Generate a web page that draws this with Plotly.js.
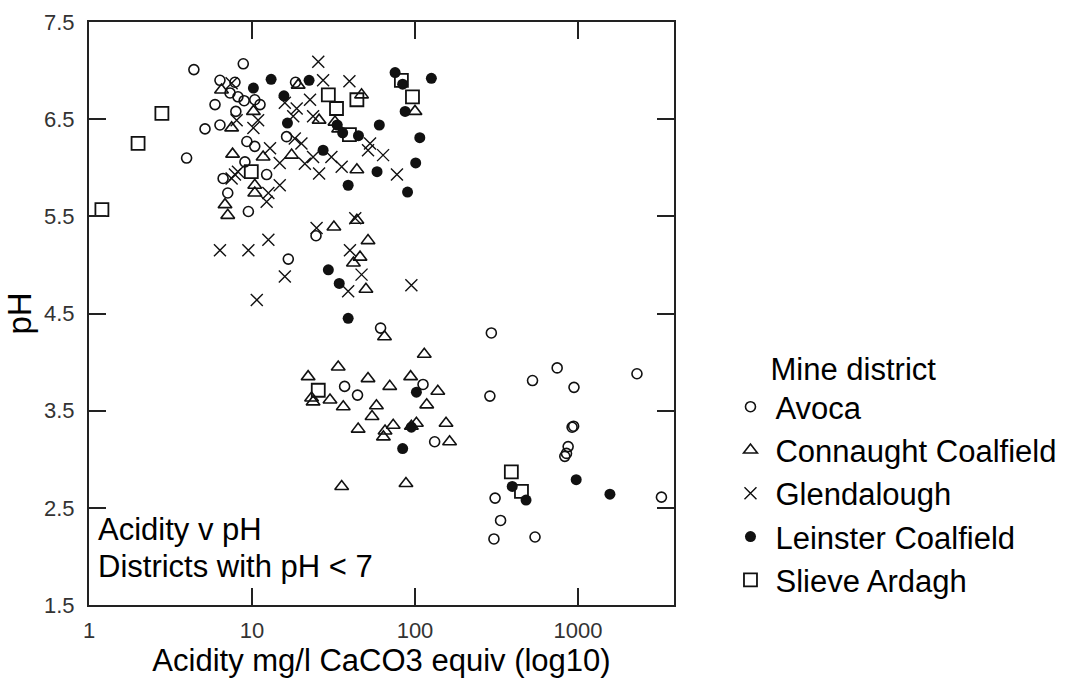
<!DOCTYPE html>
<html>
<head>
<meta charset="utf-8">
<script src="https://cdn.plot.ly/plotly-3.0.1.min.js"></script>
<style>html,body{margin:0;padding:0;background:#fff;}#chart{width:1091px;height:682px;}</style>
</head>
<body>
<div id="chart"></div>
<script>
// Acidity (mg/l CaCO3 equiv) and pH per mine district
const avocaAcidity = [4.4,8.84,5.93,5.15,6.36,7.96,6.36,7.86,7.33,8.2,8.95,10.4,11.2,9.3,10.4,3.97,9.05,6.65,12.3,7.1,9.5,18.5,16.3,24.7,16.7,61.5,37,44.4,112,132,294,745,526,945,2300,288,920,940,870,850,830,3250,310,335,305,545];
const avocaPH      = [7.01,7.07,6.65,6.40,6.44,6.58,6.90,6.88,6.77,6.73,6.69,6.70,6.65,6.27,6.22,6.10,6.06,5.89,5.93,5.74,5.55,6.88,6.32,5.30,5.06,4.35,3.75,3.66,3.77,3.18,4.30,3.94,3.81,3.74,3.88,3.65,3.33,3.34,3.13,3.06,3.03,2.61,2.60,2.37,2.18,2.20];

const connAcidity = [6.5,7.5,10.2,7.6,11.7,10.4,10.4,6.83,7.1,19.2,47,100,25.8,32.3,34,17.5,44,31.8,44,51.5,46,41.9,50,65,114,33.8,22.1,51.5,94,70,138,23.2,23.7,30.1,36.3,118,58,54.5,44.8,73.5,65.5,64,95,102,155,163,35.5,88];
const connPH      = [6.80,6.41,6.58,6.14,6.11,5.82,5.74,5.62,5.51,6.85,6.75,6.58,6.49,6.47,6.40,6.13,5.98,5.39,5.46,5.25,5.08,5.02,4.75,4.26,4.08,3.95,3.85,3.83,3.85,3.75,3.70,3.63,3.59,3.61,3.54,3.56,3.55,3.44,3.31,3.35,3.29,3.23,3.34,3.37,3.37,3.18,2.72,2.75];

const glenAcidity = [25.5,27.3,39.6,15.9,22.7,18.8,17.9,23.7,18.3,20.1,53,51.5,63.7,12.9,23.7,30.7,14.8,21.1,35.5,25.8,77.5,14.8,12.6,12.3,7.5,8.05,10.9,10.2,7.86,7.5,8.2,6.36,9.5,12.6,10.7,24.9,43,39.9,15.9,47,38.9,95];
const glenPH      = [7.09,6.90,6.89,6.67,6.70,6.61,6.53,6.53,6.30,6.25,6.25,6.18,6.13,6.20,6.11,6.11,6.05,6.04,6.01,5.94,5.93,5.82,5.74,5.65,6.87,6.49,6.49,6.41,5.93,5.89,5.96,5.15,5.15,5.26,4.64,5.38,5.48,5.15,4.88,4.90,4.73,4.79];

const leinAcidity = [13.1,10.2,22.4,75.5,84,126,87,15.7,16.5,33.3,36,45,60.4,107,27.3,101,58.5,38.9,90,29.4,34.3,38.9,102,84,95,395,480,975,1570];
const leinPH      = [6.91,6.82,6.90,6.98,6.86,6.92,6.58,6.74,6.46,6.44,6.36,6.33,6.44,6.31,6.18,6.05,5.96,5.82,5.75,4.95,4.81,4.45,3.69,3.11,3.33,2.72,2.58,2.79,2.64];

const slieveAcidity = [2.8,2.0,1.2,9.9,82.5,29.4,44,96.5,33,39.6,25.5,390,450];
const slievePH      = [6.56,6.25,5.57,5.96,6.90,6.75,6.70,6.73,6.61,6.34,3.71,2.87,2.67];

const districts = ["Avoca","Connaught Coalfield","Glendalough","Leinster Coalfield","Slieve Ardagh"];
const xTickVals = [1,10,100,1000];
const xTickText = ["1","10","100","1000"];
const yTickVals = [1.5,2.5,3.5,4.5,5.5,6.5,7.5];
const yTickText = ["1.5","2.5","3.5","4.5","5.5","6.5","7.5"];
const noteLines = ["Acidity v pH","Districts with pH &lt; 7"];

const ink = '#111';
function tr(name, x, y, symbol, size, lw) {
  return {type:'scatter', mode:'markers', name:name, x:x, y:y, cliponaxis:false,
    marker:{symbol:symbol, size:size, color:ink, line:{color:ink, width:lw}}};
}
const data = [
  tr(districts[0], avocaAcidity, avocaPH, 'circle-open', 10, 1.6),
  tr(districts[1], connAcidity, connPH, 'triangle-up-open', 12, 1.6),
  tr(districts[2], glenAcidity, glenPH, 'x-thin-open', 12, 1.4),
  tr(districts[3], leinAcidity, leinPH, 'circle', 11, 0),
  tr(districts[4], slieveAcidity, slievePH, 'square-open', 13, 1.8)
];

const axisCommon = {showline:true, linecolor:'#222', linewidth:2, mirror:'ticks', ticks:'inside',
  ticklen:17, tickwidth:2, tickcolor:'#222', showgrid:false, zeroline:false,
  tickfont:{family:'Liberation Sans Narrow, Liberation Sans, Arial, sans-serif', size:22, color:'#333'}};

const layout = {
  width:1091, height:682,
  margin:{l:89, r:417, t:22, b:77},
  paper_bgcolor:'#fff', plot_bgcolor:'#fff',
  font:{family:'Liberation Sans, Arial, sans-serif', color:'#000'},
  xaxis:Object.assign({}, axisCommon, {type:'log', range:[0, 3.589], tickmode:'array',
    tickvals:xTickVals, ticktext:xTickText, ticklabelstandoff:5,
    title:{text:'Acidity mg/l CaCO3 equiv (log10)', font:{size:31, color:'#000'}, standoff:6}}),
  yaxis:Object.assign({}, axisCommon, {range:[1.5, 7.5], tickmode:'array',
    tickvals:yTickVals, ticktext:yTickText, ticklabelstandoff:8,
    title:{text:'pH', font:{size:33, color:'#000'}, standoff:2}}),
  showlegend:true,
  legend:{x:1.088, xanchor:'left', y:0.455, yanchor:'top', bgcolor:'rgba(0,0,0,0)',
    font:{size:31, color:'#000'}, itemwidth:40, tracegroupgap:0,
    title:{text:'\u00a0\u00a0\u00a0\u00a0\u00a0Mine district', font:{size:31, color:'#000'}}},
  annotations:[
    {xref:'paper', yref:'paper', x:0.012, y:0.129, xanchor:'left', yanchor:'middle',
      align:'left', showarrow:false, text:noteLines[0], font:{size:31, color:'#000'}},
    {xref:'paper', yref:'paper', x:0.012, y:0.066, xanchor:'left', yanchor:'middle',
      align:'left', showarrow:false, text:noteLines[1], font:{size:31, color:'#000'}}
  ]
};

Plotly.newPlot('chart', data, layout, {staticPlot:true, displayModeBar:false});
</script>
</body>
</html>
